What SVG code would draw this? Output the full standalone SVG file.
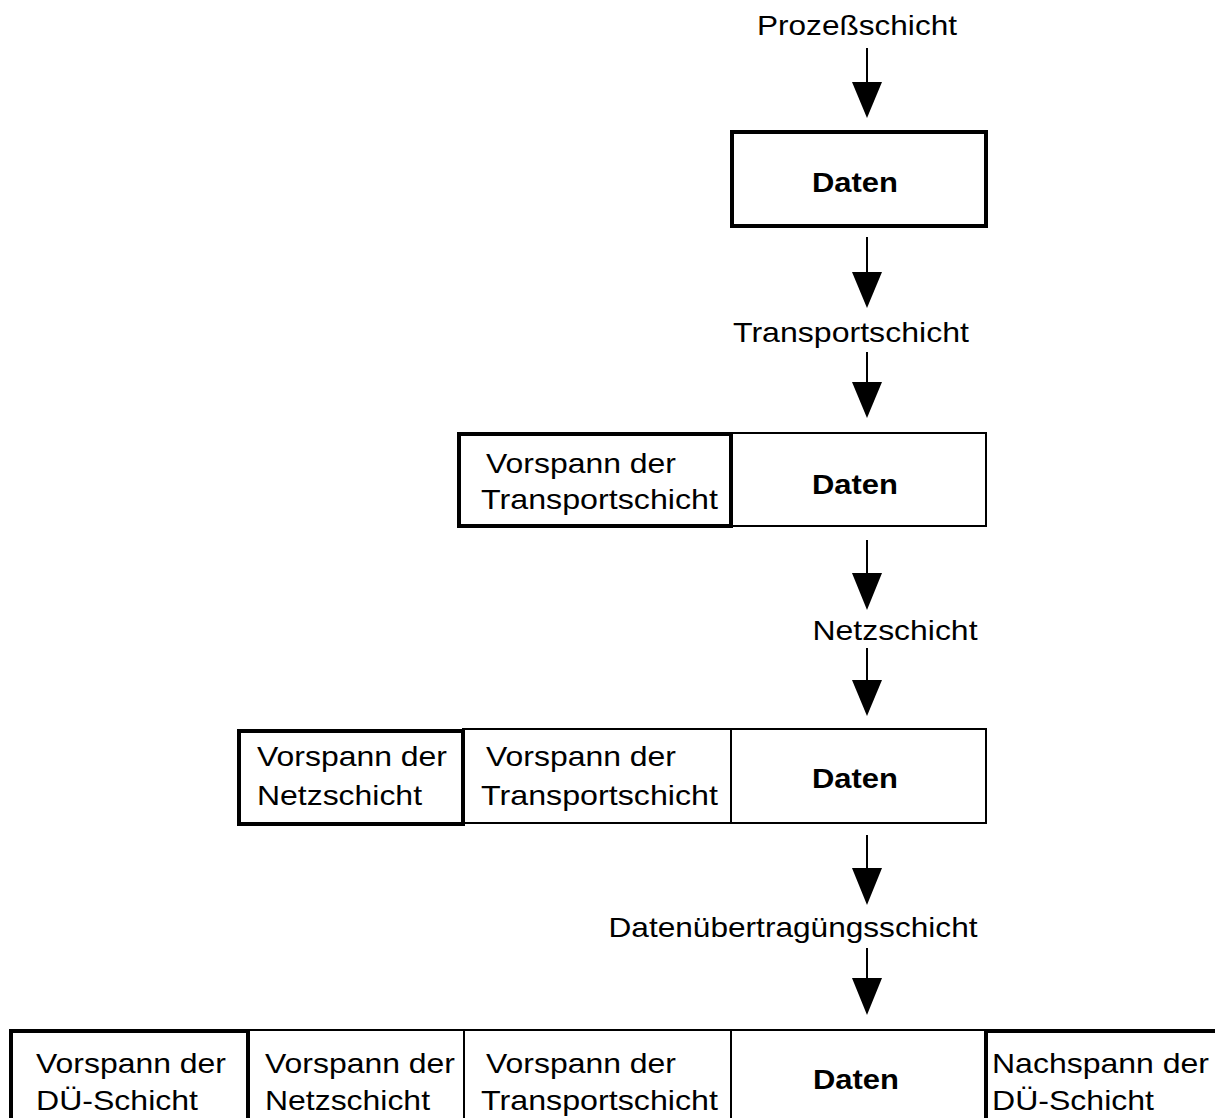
<svg xmlns="http://www.w3.org/2000/svg" width="1215" height="1118" viewBox="0 0 1215 1118">
<style>
text{font-family:"Liberation Sans",Arial,sans-serif;font-size:28px;fill:#000}
.b{font-weight:bold}
.m{text-anchor:middle}
.thick{fill:#fff;stroke:#000;stroke-width:4}
.thin{fill:#fff;stroke:#000;stroke-width:2}
.ln{stroke:#000;stroke-width:2;fill:none}
.hd{fill:#000}
</style>
<rect width="1215" height="1118" fill="#fff"/>
<g id="connectors">
<line class="ln" x1="867" y1="48" x2="867" y2="84"/><polygon class="hd" points="852,82 882,82 867,118"/>
<line class="ln" x1="867" y1="237" x2="867" y2="274"/><polygon class="hd" points="852,272 882,272 867,308"/>
<line class="ln" x1="867" y1="352" x2="867" y2="384"/><polygon class="hd" points="852,382 882,382 867,418"/>
<line class="ln" x1="867" y1="540" x2="867" y2="575"/><polygon class="hd" points="852,573 882,573 867,610"/>
<line class="ln" x1="867" y1="648" x2="867" y2="682"/><polygon class="hd" points="852,680 882,680 867,716"/>
<line class="ln" x1="867" y1="835" x2="867" y2="870"/><polygon class="hd" points="852,868 882,868 867,905"/>
<line class="ln" x1="867" y1="948" x2="867" y2="980"/><polygon class="hd" points="852,978 882,978 867,1015"/>
</g>
<g id="label-prozess"><text class="m" x="857" y="35" textLength="200" lengthAdjust="spacingAndGlyphs">Prozeßschicht</text></g>
<g id="box1"><rect class="thick" x="732" y="132" width="254" height="94"/><text class="b m" x="855" y="192" textLength="86" lengthAdjust="spacingAndGlyphs">Daten</text></g>
<g id="label-transport"><text class="m" x="851" y="342" textLength="236" lengthAdjust="spacingAndGlyphs">Transportschicht</text></g>
<g id="row2">
<rect class="thin" x="731" y="433" width="255" height="93"/>
<rect class="thick" x="459" y="434" width="272" height="92"/>
<text x="486" y="473" textLength="190" lengthAdjust="spacingAndGlyphs">Vorspann der</text><text x="481" y="509" textLength="237" lengthAdjust="spacingAndGlyphs">Transportschicht</text>
<text class="b m" x="855" y="494" textLength="86" lengthAdjust="spacingAndGlyphs">Daten</text>
</g>
<g id="label-netz"><text class="m" x="895" y="640" textLength="165" lengthAdjust="spacingAndGlyphs">Netzschicht</text></g>
<g id="row3">
<rect class="thin" x="463" y="729" width="268" height="94"/>
<rect class="thin" x="731" y="729" width="255" height="94"/>
<rect class="thick" x="239" y="731" width="224" height="93"/>
<text x="257" y="766" textLength="190" lengthAdjust="spacingAndGlyphs">Vorspann der</text><text x="257" y="805" textLength="165" lengthAdjust="spacingAndGlyphs">Netzschicht</text>
<text x="486" y="766" textLength="190" lengthAdjust="spacingAndGlyphs">Vorspann der</text><text x="481" y="805" textLength="237" lengthAdjust="spacingAndGlyphs">Transportschicht</text>
<text class="b m" x="855" y="788" textLength="86" lengthAdjust="spacingAndGlyphs">Daten</text>
</g>
<g id="label-due"><text class="m" x="793" y="937" textLength="369" lengthAdjust="spacingAndGlyphs">Datenübertragüngsschicht</text></g>
<g id="row4">
<rect class="thin" x="248" y="1030" width="216" height="100"/>
<rect class="thin" x="464" y="1030" width="267" height="100"/>
<rect class="thin" x="731" y="1030" width="255" height="100"/>
<rect class="thick" x="11" y="1031" width="237" height="100"/>
<rect class="thick" x="986" y="1031" width="240" height="100"/>
<text x="36" y="1073" textLength="190" lengthAdjust="spacingAndGlyphs">Vorspann der</text><text x="36" y="1110" textLength="162" lengthAdjust="spacingAndGlyphs">DÜ-Schicht</text>
<text x="265" y="1073" textLength="190" lengthAdjust="spacingAndGlyphs">Vorspann der</text><text x="265" y="1110" textLength="165" lengthAdjust="spacingAndGlyphs">Netzschicht</text>
<text x="486" y="1073" textLength="190" lengthAdjust="spacingAndGlyphs">Vorspann der</text><text x="481" y="1110" textLength="237" lengthAdjust="spacingAndGlyphs">Transportschicht</text>
<text class="b m" x="856" y="1089" textLength="86" lengthAdjust="spacingAndGlyphs">Daten</text>
<text x="992" y="1073" textLength="217" lengthAdjust="spacingAndGlyphs">Nachspann der</text><text x="992" y="1110" textLength="162" lengthAdjust="spacingAndGlyphs">DÜ-Schicht</text>
</g>
</svg>
